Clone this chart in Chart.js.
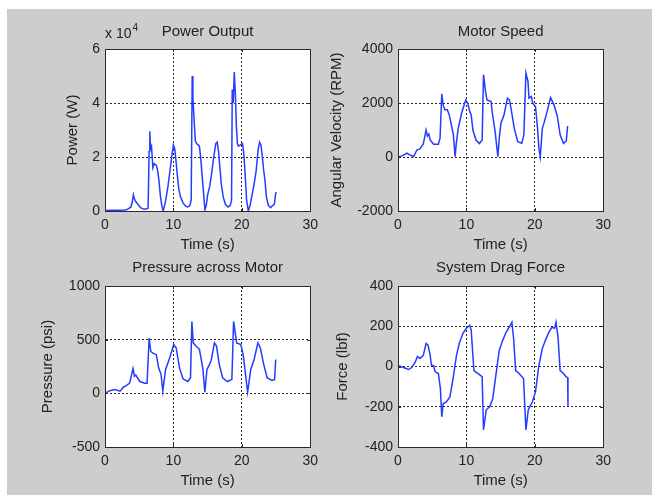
<!DOCTYPE html>
<html>
<head>
<meta charset="utf-8">
<script src="https://cdn.jsdelivr.net/npm/chart.js@4.4.1/dist/chart.umd.min.js"></script>
<style>
  body { margin: 0; background: #fff; width: 652px; height: 495px; overflow: hidden; position: relative; }
  #fig { position: absolute; left: 7px; top: 9px; right: 0; bottom: 0; background: #cdcdcd; }
  canvas { position: absolute; }
</style>
</head>
<body>
<div id="fig"></div>
<canvas id="powerChart" width="289" height="247" style="left:35px;top:9px"></canvas>
<canvas id="speedChart" width="289" height="247" style="left:328px;top:9px"></canvas>
<canvas id="pressureChart" width="289" height="246" style="left:35px;top:246px"></canvas>
<canvas id="forceChart" width="289" height="246" style="left:328px;top:246px"></canvas>
<script>
// tick values
const timeTicks = [0, 10, 20, 30];
const powerTicks = [0, 20000, 40000, 60000];
const speedTicks = [-2000, 0, 2000, 4000];
const pressureTicks = [-500, 0, 500, 1000];
const forceTicks = [-400, -200, 0, 200, 400];

// [time (s), value]
const powerData = [
    [0, 200], [1, 300], [2, 300], [3, 400], [3.4, 800], [3.8, 1500], [4.0, 3500], [4.15, 6000], [4.3, 4500], [4.5, 3500],
    [4.8, 2500], [5.2, 1200], [5.6, 700], [6.0, 700], [6.3, 1000], [6.45, 22000], [6.55, 29500], [6.65, 23000], [6.8, 24000], [7.0, 16000],
    [7.2, 17500], [7.5, 17000], [7.7, 15000], [7.9, 11000], [8.1, 5500], [8.3, 2000], [8.5, 0], [8.8, 3000], [9.0, 6000], [9.2, 9000],
    [9.5, 15000], [9.8, 21000], [10.0, 24500], [10.2, 23000], [10.4, 18000], [10.6, 12500], [10.8, 8000], [11.0, 5500], [11.4, 3000], [11.8, 1800],
    [12.1, 1500], [12.4, 2000], [12.6, 4000], [12.75, 50000], [12.85, 42000], [13.0, 35000], [13.2, 26000], [13.4, 25000], [13.8, 24000], [14.0, 19500],
    [14.2, 13000], [14.4, 7000], [14.6, 500], [14.8, 2000], [15.0, 6000], [15.3, 9000], [15.6, 14000], [15.9, 20000], [16.2, 25000], [16.4, 25500],
    [16.6, 22000], [16.8, 16000], [17.0, 10000], [17.3, 5000], [17.6, 2500], [18.0, 1500], [18.3, 2000], [18.5, 4000], [18.6, 45000], [18.75, 40000],
    [18.9, 51500], [19.05, 44000], [19.2, 32000], [19.35, 25000], [19.5, 24000], [19.8, 24500], [20.1, 25000], [20.3, 21000], [20.5, 13000], [20.7, 4000],
    [20.95, 0], [21.2, 2000], [21.5, 6000], [21.8, 10000], [22.1, 15000], [22.4, 23000], [22.6, 25500], [22.8, 24500], [23.0, 20000], [23.2, 15000],
    [23.4, 11000], [23.6, 5000], [23.9, 2000], [24.2, 1200], [24.5, 2000], [24.75, 2500], [24.9, 5500], [25.0, 7000]
];

const speedData = [
    [0, 0], [0.6, 40], [1.3, 140], [1.8, 70], [2.3, 20], [2.75, 260], [3.2, 300], [3.7, 480], [4.1, 1000], [4.3, 780],
    [4.5, 850], [4.7, 630], [5.2, 470], [5.9, 470], [6.15, 700], [6.4, 2340], [6.6, 1930], [6.85, 1750], [7.2, 1750], [7.5, 1560],
    [7.7, 1310], [8.1, 820], [8.35, 10], [8.5, 450], [8.8, 1060], [9.3, 1630], [9.9, 2110], [10.2, 1990], [10.5, 1680], [10.7, 1560],
    [10.95, 1000], [11.4, 630], [11.9, 500], [12.3, 630], [12.5, 3050], [12.8, 2430], [13.0, 2110], [13.6, 2050], [13.8, 1620], [14.2, 940],
    [14.6, 10], [14.8, 690], [15.05, 1250], [15.5, 1560], [16.0, 2180], [16.3, 2110], [16.6, 1680], [17.0, 1060], [17.5, 570], [18.1, 510],
    [18.4, 820], [18.7, 3110], [19.0, 2800], [19.15, 2180], [19.5, 2240], [19.7, 1990], [20.1, 1870], [20.4, 1060], [20.6, 320], [20.8, 10],
    [21.1, 1060], [21.4, 1310], [21.8, 1680], [22.3, 2200], [22.8, 1930], [23.3, 1500], [23.7, 820], [24.2, 500], [24.6, 600], [24.8, 1150]
];

const pressureData = [
    [0, 0], [0.7, 25], [1.45, 35], [2.2, 20], [2.65, 55], [3.15, 75], [3.6, 95], [4.1, 230], [4.3, 160], [4.5, 170],
    [5.1, 110], [5.8, 95], [6.15, 95], [6.45, 515], [6.7, 390], [7.0, 375], [7.5, 360], [7.85, 235], [8.2, 175], [8.45, 20],
    [8.85, 220], [9.45, 330], [10.05, 455], [10.4, 425], [10.9, 235], [11.4, 135], [12.1, 110], [12.5, 145], [12.7, 670], [12.9, 470],
    [13.3, 440], [13.8, 410], [14.3, 235], [14.6, 10], [14.9, 220], [15.5, 300], [16.0, 470], [16.3, 440], [16.7, 270], [17.2, 145],
    [17.9, 110], [18.55, 130], [18.8, 670], [19.0, 580], [19.25, 470], [19.85, 455], [20.2, 360], [20.55, 175], [20.85, 10], [21.3, 220],
    [21.8, 315], [22.35, 470], [22.7, 425], [23.2, 270], [23.7, 145], [24.4, 120], [24.8, 130], [24.95, 315]
];

const forceData = [
    [0, 5], [0.8, -5], [1.55, -15], [2.0, -5], [2.5, 20], [2.85, 50], [3.2, 40], [3.7, 55], [4.1, 115], [4.4, 105],
    [4.7, 55], [4.9, 5], [5.2, 5], [5.4, -25], [5.9, -35], [6.2, -110], [6.4, -250], [6.6, -185], [7.1, -175], [7.6, -150],
    [8.05, -60], [8.55, 55], [9.0, 120], [9.5, 165], [10.0, 190], [10.5, 205], [10.7, 180], [11.1, -20], [11.7, -35], [12.3, -50],
    [12.5, -315], [12.9, -215], [13.4, -200], [13.85, -160], [14.3, -45], [14.8, 80], [15.3, 130], [15.8, 170], [16.25, 195], [16.65, 220],
    [16.9, 140], [17.2, -20], [17.7, -35], [18.35, -60], [18.7, -315], [19.05, -215], [19.65, -175], [20.1, -125], [20.6, 5], [21.1, 90],
    [21.55, 130], [22.05, 170], [22.5, 195], [22.9, 190], [23.1, 220], [23.4, 145], [23.7, -20], [24.2, -35], [24.55, -50], [24.8, -55],
    [24.85, -200]
];

const FONT = "'Liberation Sans', Arial, sans-serif";
const TEXT = "#222";

// white plot area, box frame and inward ticks like the original figure
const framePlugin = {
    id: "frame",
    beforeDraw(chart) {
        const a = chart.chartArea;
        const ctx = chart.ctx;
        ctx.save();
        ctx.fillStyle = "#fff";
        ctx.fillRect(a.left, a.top, a.right - a.left, a.bottom - a.top);
        ctx.restore();
    },
    afterDraw(chart) {
        const a = chart.chartArea;
        const ctx = chart.ctx;
        const xs = chart.scales.x, ys = chart.scales.y;
        ctx.save();
        ctx.strokeStyle = "#2a2a2a";
        ctx.lineWidth = 1;
        ctx.beginPath();
        xs.ticks.forEach(t => {
            const px = Math.round(xs.getPixelForValue(t.value)) + 0.5;
            ctx.moveTo(px, a.top); ctx.lineTo(px, a.top + 3);
            ctx.moveTo(px, a.bottom); ctx.lineTo(px, a.bottom - 3);
        });
        ys.ticks.forEach(t => {
            const py = Math.round(ys.getPixelForValue(t.value)) + 0.5;
            ctx.moveTo(a.left, py); ctx.lineTo(a.left + 3, py);
            ctx.moveTo(a.right, py); ctx.lineTo(a.right - 3, py);
        });
        ctx.stroke();
        ctx.strokeRect(Math.round(a.left) + 0.5, Math.round(a.top) + 0.5,
            Math.round(a.right - a.left), Math.round(a.bottom - a.top));
        if (chart.options.plugins.frame && chart.options.plugins.frame.exponent) {
            ctx.fillStyle = TEXT;
            ctx.textBaseline = "middle";
            ctx.font = "14px " + FONT;
            const base = "x 10";
            ctx.fillText(base, a.left, a.top - 15);
            const w = ctx.measureText(base).width;
            ctx.font = "10px " + FONT;
            ctx.fillText(chart.options.plugins.frame.exponent, a.left + w + 1, a.top - 21);
        }
        ctx.restore();
    }
};

const makeChart = (id, opts) => {
    const ctx = document.getElementById(id).getContext("2d");
    return new Chart(ctx, {
        type: "line",
        data: {
            datasets: [{
                data: opts.points.map(p => ({ x: p[0], y: p[1] })),
                borderColor: "rgb(35,60,255)",
                borderWidth: 1.5,
                pointRadius: 0,
                tension: 0,
                fill: false
            }]
        },
        options: {
            responsive: false,
            animation: false,
            devicePixelRatio: 1,
            layout: { padding: { left: 0, right: 12, top: 0, bottom: 0 } },
            plugins: {
                legend: { display: false },
                tooltip: { enabled: false },
                frame: { exponent: opts.exponent },
                title: {
                    display: true,
                    text: opts.title,
                    color: TEXT,
                    fullSize: false,
                    font: { family: FONT, size: 15, weight: "normal" },
                    padding: { top: opts.titleTop, bottom: 40 - 18 - opts.titleTop }
                }
            },
            scales: {
                x: {
                    type: "linear",
                    min: timeTicks[0],
                    max: timeTicks[timeTicks.length - 1],
                    afterBuildTicks: s => { s.ticks = timeTicks.map(v => ({ value: v })); },
                    afterFit: s => { s.height = 45; },
                    ticks: { color: TEXT, font: { family: FONT, size: 14 }, padding: 6, maxRotation: 0 },
                    grid: { color: "rgba(0,0,0,0.85)", drawTicks: false },
                    border: { display: true, color: "#2a2a2a", dash: [2, 2] },
                    title: { display: true, text: "Time (s)", color: TEXT, font: { family: FONT, size: 15 }, padding: { top: 0, bottom: 2.5 } }
                },
                y: {
                    min: opts.ticks[0],
                    max: opts.ticks[opts.ticks.length - 1],
                    afterBuildTicks: s => { s.ticks = opts.ticks.map(v => ({ value: v })); },
                    afterFit: s => { s.width = 70; },
                    ticks: {
                        color: TEXT,
                        font: { family: FONT, size: 14 },
                        padding: 5,
                        callback: v => opts.tickFormat ? opts.tickFormat(v) : String(v)
                    },
                    grid: { color: "rgba(0,0,0,0.85)", drawTicks: false },
                    border: { display: true, color: "#2a2a2a", dash: [2, 2] },
                    title: { display: true, text: opts.yTitle, color: TEXT, font: { family: FONT, size: 15 }, padding: { top: opts.yTitlePad, bottom: 0 } }
                }
            }
        },
        plugins: [framePlugin]
    });
};

makeChart("powerChart", {
    points: powerData, ticks: powerTicks, title: "Power Output", yTitle: "Power (W)",
    titleTop: 13.7, yTitlePad: 29, exponent: "4", tickFormat: v => String(v / 10000)
});
makeChart("speedChart", {
    points: speedData, ticks: speedTicks, title: "Motor Speed", yTitle: "Angular Velocity (RPM)",
    titleTop: 13.7, yTitlePad: 0
});
makeChart("pressureChart", {
    points: pressureData, ticks: pressureTicks, title: "Pressure across Motor", yTitle: "Pressure (psi)",
    titleTop: 13.3, yTitlePad: 4
});
makeChart("forceChart", {
    points: forceData, ticks: forceTicks, title: "System Drag Force", yTitle: "Force (lbf)",
    titleTop: 13.3, yTitlePad: 6.3
});
</script>
</body>
</html>
